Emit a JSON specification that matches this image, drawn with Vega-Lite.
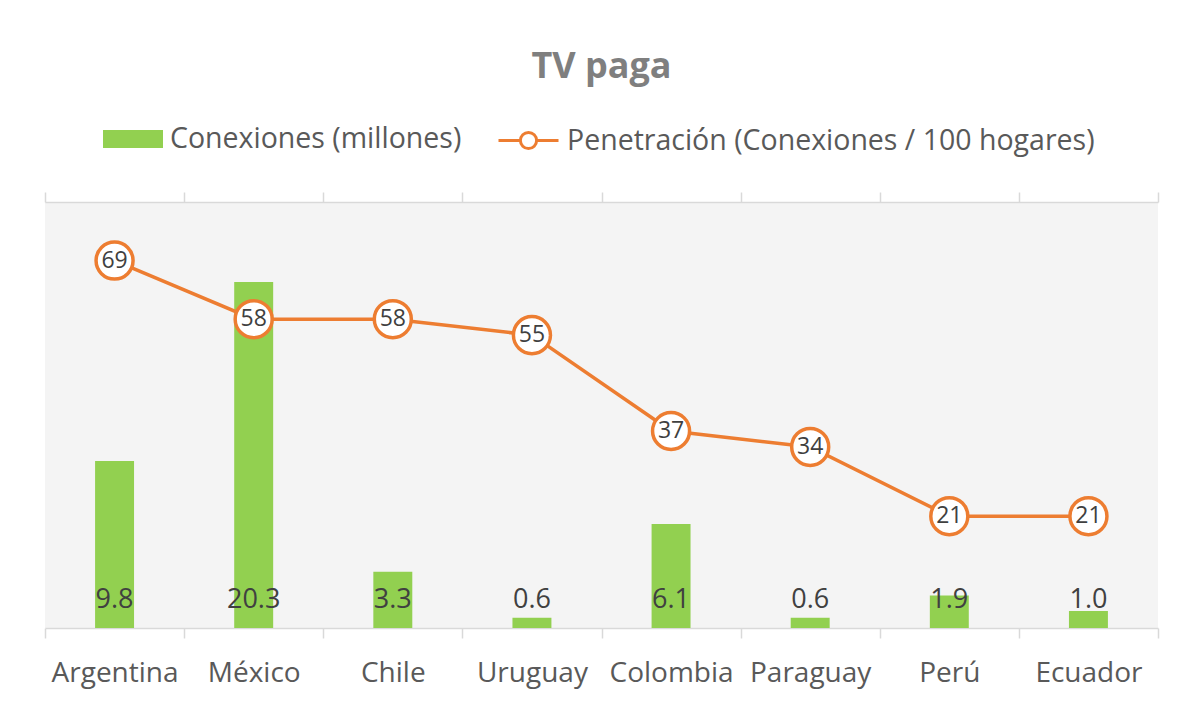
{
  "$schema": "https://vega.github.io/schema/vega-lite/v6.json",
  "width": 1113,
  "height": 426,
  "autosize": "none",
  "padding": {"left": 45, "top": 202, "right": 25, "bottom": 78},
  "background": "white",
  "title": {
    "text": "TV paga",
    "fontSize": 36,
    "fontWeight": "bold",
    "color": "#7F7F7F",
    "font": "Open Sans",
    "anchor": "middle",
    "offset": 23
  },
  "config": {
    "view": {"stroke": null, "fill": "#F4F4F4"},
    "font": "Open Sans"
  },
  "data": {
    "values": [
      {"pais": "Argentina", "conexiones": 9.8, "penetracion": 69},
      {"pais": "México", "conexiones": 20.3, "penetracion": 58},
      {"pais": "Chile", "conexiones": 3.3, "penetracion": 58},
      {"pais": "Uruguay", "conexiones": 0.6, "penetracion": 55},
      {"pais": "Colombia", "conexiones": 6.1, "penetracion": 37},
      {"pais": "Paraguay", "conexiones": 0.6, "penetracion": 34},
      {"pais": "Perú", "conexiones": 1.9, "penetracion": 21},
      {"pais": "Ecuador", "conexiones": 1.0, "penetracion": 21}
    ]
  },
  "layer": [
    {
      "mark": {"type": "bar", "width": {"band": 0.28}},
      "encoding": {
        "x": {
          "field": "pais", "type": "nominal", "sort": null, "title": null,
          "scale": {"paddingInner": 0, "paddingOuter": 0},
          "axis": {
            "orient": "bottom", "domainColor": "#D9D9D9", "domainWidth": 1.5,
            "tickColor": "#D9D9D9", "tickWidth": 1.5, "tickSize": 10, "tickBand": "extent",
            "labelAngle": 0, "labelFontSize": 28, "labelColor": "#595959",
            "labelFont": "Open Sans", "labelPadding": 21
          }
        },
        "y": {"field": "conexiones", "type": "quantitative", "scale": {"domain": [0, 25]}, "axis": null},
        "fill": {
          "datum": "Conexiones (millones)", "type": "nominal",
          "scale": {"range": ["#92D050"]},
          "legend": {
            "orient": "none", "legendX": 58, "legendY": -93, "title": null, "padding": 0,
            "symbolType": "M-1,-0.3H1V0.3H-1Z", "symbolSize": 3600, "symbolStrokeWidth": 0,
            "labelFontSize": 28.5, "labelColor": "#595959", "labelFont": "Open Sans", "labelOffset": 7, "labelLimit": 1000
          }
        }
      }
    },
    {
      "mark": {"type": "text", "fontSize": 27, "color": "#404040", "baseline": "alphabetic", "dy": -20, "font": "Open Sans"},
      "encoding": {
        "x": {"field": "pais", "type": "nominal", "sort": null, "axis": null},
        "y": {"datum": 0, "type": "quantitative", "scale": {"domain": [0, 25]}, "axis": null},
        "text": {"field": "conexiones", "type": "quantitative", "format": ".1f"}
      }
    },
    {
      "mark": {"type": "line", "strokeWidth": 3.5},
      "encoding": {
        "x": {
          "field": "pais", "type": "nominal", "sort": null, "title": null,
          "axis": {
            "orient": "top", "labels": false, "domainColor": "#D9D9D9", "domainWidth": 1.5,
            "tickColor": "#D9D9D9", "tickWidth": 1.5, "tickSize": 10, "tickBand": "extent"
          }
        },
        "y": {"field": "penetracion", "type": "quantitative", "scale": {"domain": [0, 80]}, "axis": null},
        "stroke": {
          "datum": "Penetración (Conexiones / 100 hogares)", "type": "nominal",
          "scale": {"range": ["#ED7D31"]},
          "legend": {
            "orient": "none", "legendX": 452, "legendY": -93, "title": null, "padding": 0,
            "symbolType": "M-1,0H-0.27M0.27,0H1M0.27,0A0.27,0.27,0,1,1,-0.27,0A0.27,0.27,0,1,1,0.27,0",
            "symbolSize": 3600, "symbolStrokeWidth": 3, "symbolFillColor": "white",
            "labelFontSize": 28.5, "labelColor": "#595959", "labelFont": "Open Sans", "labelOffset": 7, "labelLimit": 1000
          }
        }
      }
    },
    {
      "mark": {"type": "point", "shape": "circle", "filled": false, "fill": "white", "fillOpacity": 1, "stroke": "#ED7D31", "strokeWidth": 3.5, "size": 1370, "opacity": 1},
      "encoding": {
        "x": {"field": "pais", "type": "nominal", "sort": null, "axis": null},
        "y": {"field": "penetracion", "type": "quantitative", "scale": {"domain": [0, 80]}, "axis": null}
      }
    },
    {
      "mark": {"type": "text", "fontSize": 23, "color": "#404040", "baseline": "middle", "font": "Open Sans"},
      "encoding": {
        "x": {"field": "pais", "type": "nominal", "sort": null, "axis": null},
        "y": {"field": "penetracion", "type": "quantitative", "scale": {"domain": [0, 80]}, "axis": null},
        "text": {"field": "penetracion", "type": "quantitative"}
      }
    }
  ],
  "resolve": {"scale": {"y": "independent"}, "axis": {"x": "independent"}}
}
